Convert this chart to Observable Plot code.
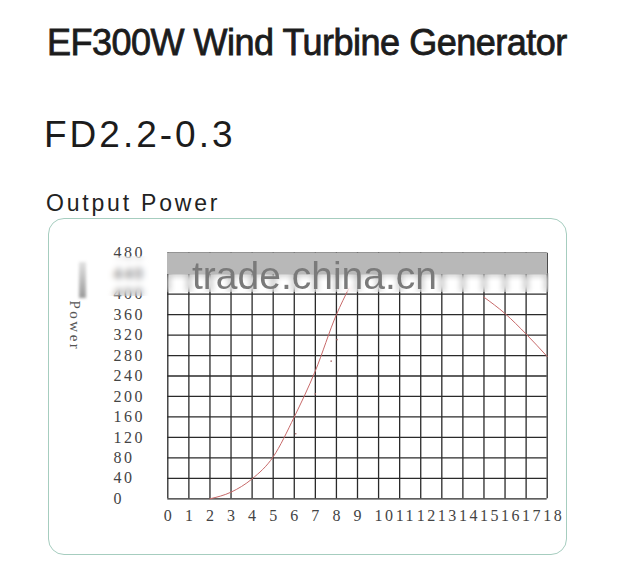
<!DOCTYPE html>
<html><head><meta charset="utf-8">
<script src="https://cdn.jsdelivr.net/npm/d3@7"></script>
<script src="https://cdn.jsdelivr.net/npm/@observablehq/plot@0.6"></script>
<style>
body{margin:0;background:#fff;}
#page{position:relative;width:630px;height:575px;overflow:hidden;font-family:"Liberation Sans",Arial,sans-serif;color:#1c1c1c;}
.t{position:absolute;white-space:nowrap;line-height:1;}
#title{left:47px;top:25px;font-size:36px;letter-spacing:-0.5px;-webkit-text-stroke:0.8px #1c1c1c;}
#model{left:44px;top:116px;font-size:37px;letter-spacing:3px;}
#sub{left:46px;top:191.5px;font-size:23px;letter-spacing:2.8px;color:#222;}
#frame{position:absolute;left:48px;top:218px;width:519px;height:337px;box-sizing:border-box;border:1.3px solid #a6cdbf;border-radius:16px;}
#chart{position:absolute;left:0;top:218px;}
.blur{position:absolute;backdrop-filter:blur(3px);-webkit-backdrop-filter:blur(3px);}
#band{position:absolute;left:167px;top:252.7px;width:380px;height:21px;background:#b8b8b8;}
#wm{position:absolute;left:192px;top:256px;font-size:39px;line-height:1;color:#7a7a7a;white-space:nowrap;filter:blur(0.5px);}
#blob{position:absolute;left:79px;top:262px;width:7px;height:36px;background:linear-gradient(#e2e2e2,#9a9a9a);filter:blur(1.5px);}
</style></head>
<body><div id="page">
<div class="t" id="title">EF300W Wind Turbine Generator</div>
<div class="t" id="model">FD2.2-0.3</div>
<div class="t" id="sub">Output Power</div>
<div id="frame"></div>
<div id="chart"></div>
<div class="blur" style="left:104px;top:256px;width:48px;height:40px;"></div>
<div class="blur" style="left:167px;top:273px;width:382px;height:19px;"></div>
<div id="band"></div>
<div id="blob"></div>
<div id="wm">trade.china.cn</div>
</div>
<script>
// Wind speed grid (x) and power grid (y)
const xTicks = [0,1,2,3,4,5,6,7,8,9,10,11,12,13,14,15,16,17,18];
const yTicks = [0,40,80,120,160,200,240,280,320,360,400,440,480];
// Visible rising part of the power curve (wind speed m/s, power W)
const riseSpeed = [2, 3, 4, 5, 6, 7, 8, 8.6];
const risePower = [0, 13, 39, 82, 160, 250, 360, 412];
// Visible falling part of the power curve
const fallSpeed = [15, 16, 17, 18];
const fallPower = [394, 362, 322, 278];
// Small stray marks on the original
const speckSpeed = [6.07, 7.75, 8.03, 7.0];
const speckPower = [127, 269, 311, 205];
const yLabel = "Power";

const rise = riseSpeed.map((s, i) => ({speed: s, power: risePower[i]}));
const fall = fallSpeed.map((s, i) => ({speed: s, power: fallPower[i]}));
const specks = speckSpeed.map((s, i) => ({speed: s, power: speckPower[i]}));

const chart = Plot.plot({
  width: 630,
  height: 337,
  marginLeft: 167.3,
  marginRight: 83.3,
  marginTop: 34.7,
  marginBottom: 56.7,
  style: {fontFamily: "'Liberation Serif', serif", fontSize: "16px", letterSpacing: "2.5px", color: "#444", background: "transparent", overflow: "visible"},
  x: {domain: [0, 18]},
  y: {domain: [0, 480]},
  marks: [
    Plot.ruleX(xTicks, {x: d => d, stroke: "#2a2a2a", strokeWidth: 1.3}),
    Plot.ruleY(yTicks, {y: d => d, stroke: "#2a2a2a", strokeWidth: 1.3}),
    Plot.line(rise, {x: "speed", y: "power", curve: "monotone-x", stroke: "#c86a6a", strokeWidth: 1}),
    Plot.line(fall, {x: "speed", y: "power", curve: "monotone-x", stroke: "#c86a6a", strokeWidth: 1}),
    Plot.dot(specks, {x: "speed", y: "power", r: 0.8, fill: "#a66", stroke: null}),
    Plot.axisX({ticks: xTicks, tickSize: 0, tickPadding: 11, textAnchor: "start", dx: -4, label: null, tickFormat: d => String(d)}),
    Plot.axisY({ticks: yTicks, tickSize: 0, tickPadding: 0, textAnchor: "start", dx: -54.3, label: null, tickFormat: d => String(d)}),
    Plot.text([yLabel], {frameAnchor: "top-left", dx: -87.3, dy: 47.3, rotate: 90, textAnchor: "start", fontSize: 15, fill: "#555"})
  ]
});
document.getElementById("chart").appendChild(chart);
</script>
</body></html>
